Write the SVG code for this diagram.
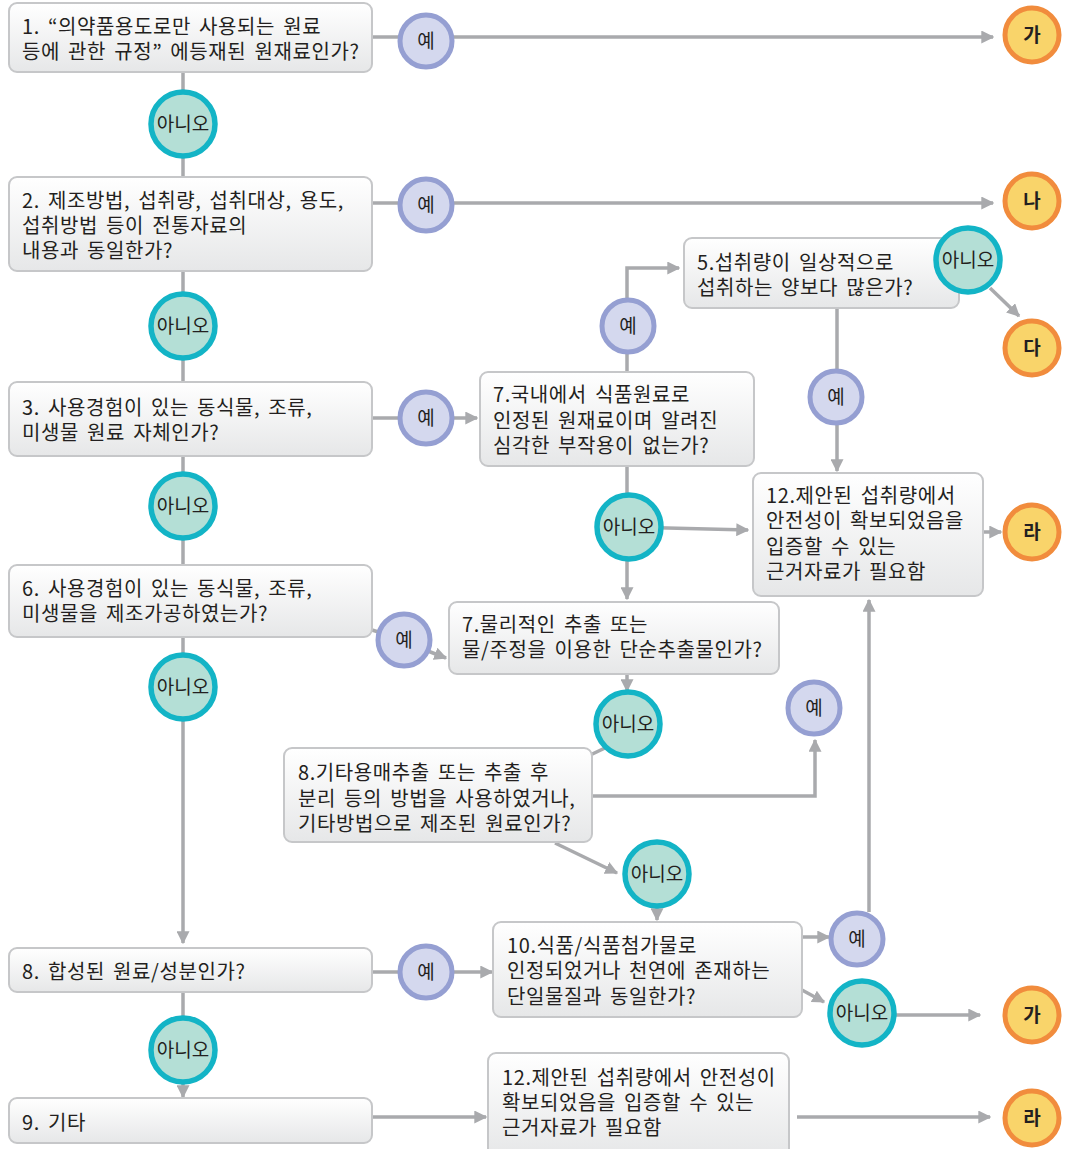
<svg xmlns="http://www.w3.org/2000/svg" width="1067" height="1149" viewBox="0 0 1067 1149">
<style>
.box{fill:url(#g);stroke:#c6c7c9;stroke-width:2}
.t{font-family:"Noto Sans CJK KR","Noto Sans",sans-serif;font-size:20px;letter-spacing:0.6px;word-spacing:3px;fill:#231f20}
.c{font-family:"Noto Sans CJK KR","Noto Sans",sans-serif;font-size:19px;fill:#231f20;text-anchor:middle}
.r{font-family:"Noto Sans CJK KR","Noto Sans",sans-serif;font-size:19px;font-weight:bold;fill:#231f20;text-anchor:middle}
.yes{fill:#d4d8ee;stroke:#959fd2;stroke-width:5}
.no{fill:#b4dfd6;stroke:#13b4c6;stroke-width:5.5}
.res{fill:#f9d46a;stroke:#f18c3d;stroke-width:5}
.ln{fill:none;stroke:#a9aaad;stroke-width:3.5}
.ar{fill:none;stroke:#a9aaad;stroke-width:3.5;marker-end:url(#a)}
</style>
<defs>
<linearGradient id="g" x1="0" y1="0" x2="0" y2="1">
<stop offset="0" stop-color="#ffffff"/>
<stop offset="1" stop-color="#e6e7e8"/>
</linearGradient>
<marker id="a" viewBox="0 0 10 10" refX="9" refY="5" markerWidth="13" markerHeight="13" markerUnits="userSpaceOnUse" orient="auto">
<path d="M0,0 L10,5 L0,10 z" fill="#a9aaad"/>
</marker>
</defs>
<rect width="1067" height="1149" fill="#ffffff"/>

<g id="connectors">
<line class="ln" x1="183" y1="72" x2="183" y2="177"/>
<line class="ln" x1="183" y1="271" x2="183" y2="382"/>
<line class="ln" x1="183" y1="456" x2="183" y2="565"/>
<line class="ar" x1="183" y1="637" x2="183" y2="943"/>
<line class="ln" x1="183" y1="992" x2="183" y2="1050"/>
<line class="ar" x1="183" y1="1050" x2="183" y2="1097"/>
<line class="ln" x1="372" y1="37" x2="426" y2="37"/>
<line class="ar" x1="426" y1="37" x2="993" y2="37"/>
<line class="ln" x1="372" y1="203" x2="426" y2="203"/>
<line class="ar" x1="426" y1="203" x2="993" y2="203"/>
<line class="ln" x1="372" y1="418" x2="426" y2="418"/>
<line class="ar" x1="426" y1="418" x2="477" y2="418"/>
<line class="ln" x1="372" y1="630" x2="404" y2="640"/>
<line class="ar" x1="420" y1="648" x2="446" y2="658"/>
<polyline class="ar" points="627,371 627,268 679,268"/>
<line class="ar" x1="990" y1="288" x2="1019" y2="316"/>
<line class="ln" x1="837" y1="308" x2="837" y2="398"/>
<line class="ar" x1="837" y1="398" x2="837" y2="471"/>
<line class="ln" x1="627" y1="466" x2="627" y2="527"/>
<line class="ar" x1="627" y1="527" x2="748" y2="530"/>
<line class="ar" x1="627" y1="527" x2="627" y2="599"/>
<line class="ar" x1="983" y1="532" x2="1001" y2="532"/>
<line class="ar" x1="627" y1="674" x2="627" y2="691"/>
<line class="ar" x1="605" y1="748" x2="567" y2="766"/>
<polyline class="ar" points="592,796 815,796 815,740"/>
<line class="ar" x1="555" y1="843" x2="617" y2="873"/>
<line class="ar" x1="657" y1="906" x2="657" y2="920"/>
<line class="ln" x1="372" y1="972" x2="426" y2="972"/>
<line class="ar" x1="426" y1="972" x2="492" y2="972"/>
<line class="ar" x1="802" y1="937" x2="829" y2="937"/>
<line class="ar" x1="869" y1="912" x2="869" y2="600"/>
<line class="ar" x1="802" y1="990" x2="824" y2="1002"/>
<line class="ar" x1="895" y1="1015" x2="980" y2="1015"/>
<line class="ar" x1="372" y1="1117" x2="486" y2="1117"/>
<line class="ar" x1="797" y1="1117" x2="990" y2="1117"/>
</g>

<g id="q1"><rect class="box" x="9" y="3" width="363" height="69" rx="8"/>
<text class="t" x="22" y="34">1. “의약품용도로만 사용되는 원료</text>
<text class="t" x="22" y="59">등에 관한 규정” 에등재된 원재료인가?</text></g>
<g id="q2"><rect class="box" x="9" y="177" width="363" height="94" rx="8"/>
<text class="t" x="22" y="208">2. 제조방법, 섭취량, 섭취대상, 용도,</text>
<text class="t" x="22" y="233">섭취방법 등이 전통자료의</text>
<text class="t" x="22" y="258">내용과 동일한가?</text></g>
<g id="q3"><rect class="box" x="9" y="382" width="363" height="74" rx="8"/>
<text class="t" x="22" y="415">3. 사용경험이 있는 동식물, 조류,</text>
<text class="t" x="22" y="440">미생물 원료 자체인가?</text></g>
<g id="q6"><rect class="box" x="9" y="565" width="363" height="72" rx="8"/>
<text class="t" x="22" y="596">6. 사용경험이 있는 동식물, 조류,</text>
<text class="t" x="22" y="621">미생물을 제조가공하였는가?</text></g>
<g id="q8s"><rect class="box" x="9" y="948" width="363" height="44" rx="8"/>
<text class="t" x="22" y="979">8. 합성된 원료/성분인가?</text></g>
<g id="q9"><rect class="box" x="9" y="1098" width="363" height="45" rx="8"/>
<text class="t" x="22" y="1130">9. 기타</text></g>
<g id="q5"><rect class="box" x="684" y="238" width="275" height="70" rx="8"/>
<text class="t" x="697" y="270">5.섭취량이 일상적으로</text>
<text class="t" x="697" y="295">섭취하는 양보다 많은가?</text></g>
<g id="q7a"><rect class="box" x="480" y="372" width="274" height="94" rx="8"/>
<text class="t" x="493" y="402">7.국내에서 식품원료로</text>
<text class="t" x="493" y="428">인정된 원재료이며 알려진</text>
<text class="t" x="493" y="453">심각한 부작용이 없는가?</text></g>
<g id="q12a"><rect class="box" x="753" y="473" width="230" height="123" rx="8"/>
<text class="t" x="766" y="503">12.제안된 섭취량에서</text>
<text class="t" x="766" y="528">안전성이 확보되었음을</text>
<text class="t" x="766" y="554">입증할 수 있는</text>
<text class="t" x="766" y="579">근거자료가 필요함</text></g>
<g id="q7b"><rect class="box" x="449" y="602" width="330" height="72" rx="8"/>
<text class="t" x="462" y="632">7.물리적인 추출 또는</text>
<text class="t" x="462" y="657">물/주정을 이용한 단순추출물인가?</text></g>
<g id="q8b"><rect class="box" x="284" y="748" width="308" height="94" rx="8"/>
<text class="t" x="298" y="780">8.기타용매추출 또는 추출 후</text>
<text class="t" x="298" y="806">분리 등의 방법을 사용하였거나,</text>
<text class="t" x="298" y="831">기타방법으로 제조된 원료인가?</text></g>
<g id="q10"><rect class="box" x="493" y="922" width="309" height="95" rx="8"/>
<text class="t" x="507" y="953">10.식품/식품첨가물로</text>
<text class="t" x="507" y="978">인정되었거나 천연에 존재하는</text>
<text class="t" x="507" y="1004">단일물질과 동일한가?</text></g>
<g id="q12b"><rect class="box" x="488" y="1053" width="301" height="104" rx="8"/>
<text class="t" x="502" y="1085">12.제안된 섭취량에서 안전성이</text>
<text class="t" x="502" y="1110">확보되었음을 입증할 수 있는</text>
<text class="t" x="502" y="1135">근거자료가 필요함</text></g>

<g id="y1"><circle class="yes" cx="426" cy="41" r="26"/><text class="c" x="426" y="48">예</text></g>
<g id="y2"><circle class="yes" cx="426" cy="205" r="26"/><text class="c" x="426" y="212">예</text></g>
<g id="y3"><circle class="yes" cx="426" cy="418" r="26"/><text class="c" x="426" y="425">예</text></g>
<g id="y6"><circle class="yes" cx="404" cy="640" r="26"/><text class="c" x="404" y="647">예</text></g>
<g id="y7a"><circle class="yes" cx="628" cy="326" r="26"/><text class="c" x="628" y="333">예</text></g>
<g id="y5"><circle class="yes" cx="836" cy="397" r="26"/><text class="c" x="836" y="404">예</text></g>
<g id="y8b"><circle class="yes" cx="814" cy="708" r="26"/><text class="c" x="814" y="715">예</text></g>
<g id="y8s"><circle class="yes" cx="426" cy="972" r="26"/><text class="c" x="426" y="979">예</text></g>
<g id="y10"><circle class="yes" cx="857" cy="939" r="26"/><text class="c" x="857" y="946">예</text></g>

<g id="n1"><circle class="no" cx="183" cy="124" r="32"/><text class="c" x="183" y="131">아니오</text></g>
<g id="n2"><circle class="no" cx="183" cy="326" r="32"/><text class="c" x="183" y="333">아니오</text></g>
<g id="n3"><circle class="no" cx="183" cy="506" r="32"/><text class="c" x="183" y="513">아니오</text></g>
<g id="n6"><circle class="no" cx="183" cy="687" r="32"/><text class="c" x="183" y="694">아니오</text></g>
<g id="n5"><circle class="no" cx="968" cy="260" r="32"/><text class="c" x="968" y="267">아니오</text></g>
<g id="n7a"><circle class="no" cx="629" cy="527" r="32"/><text class="c" x="629" y="534">아니오</text></g>
<g id="n7b"><circle class="no" cx="628" cy="724" r="32"/><text class="c" x="628" y="731">아니오</text></g>
<g id="n8b"><circle class="no" cx="657" cy="874" r="32"/><text class="c" x="657" y="881">아니오</text></g>
<g id="n8s"><circle class="no" cx="183" cy="1050" r="32"/><text class="c" x="183" y="1057">아니오</text></g>
<g id="n10"><circle class="no" cx="862" cy="1013" r="32"/><text class="c" x="862" y="1020">아니오</text></g>

<g id="r-ga1"><circle class="res" cx="1032" cy="35" r="27"/><text class="r" x="1032" y="42">가</text></g>
<g id="r-na"><circle class="res" cx="1032" cy="201" r="27"/><text class="r" x="1032" y="208">나</text></g>
<g id="r-da"><circle class="res" cx="1032" cy="348" r="27"/><text class="r" x="1032" y="355">다</text></g>
<g id="r-ra1"><circle class="res" cx="1032" cy="532" r="27"/><text class="r" x="1032" y="539">라</text></g>
<g id="r-ga2"><circle class="res" cx="1032" cy="1015" r="27"/><text class="r" x="1032" y="1022">가</text></g>
<g id="r-ra2"><circle class="res" cx="1032" cy="1118" r="27"/><text class="r" x="1032" y="1125">라</text></g>
</svg>
